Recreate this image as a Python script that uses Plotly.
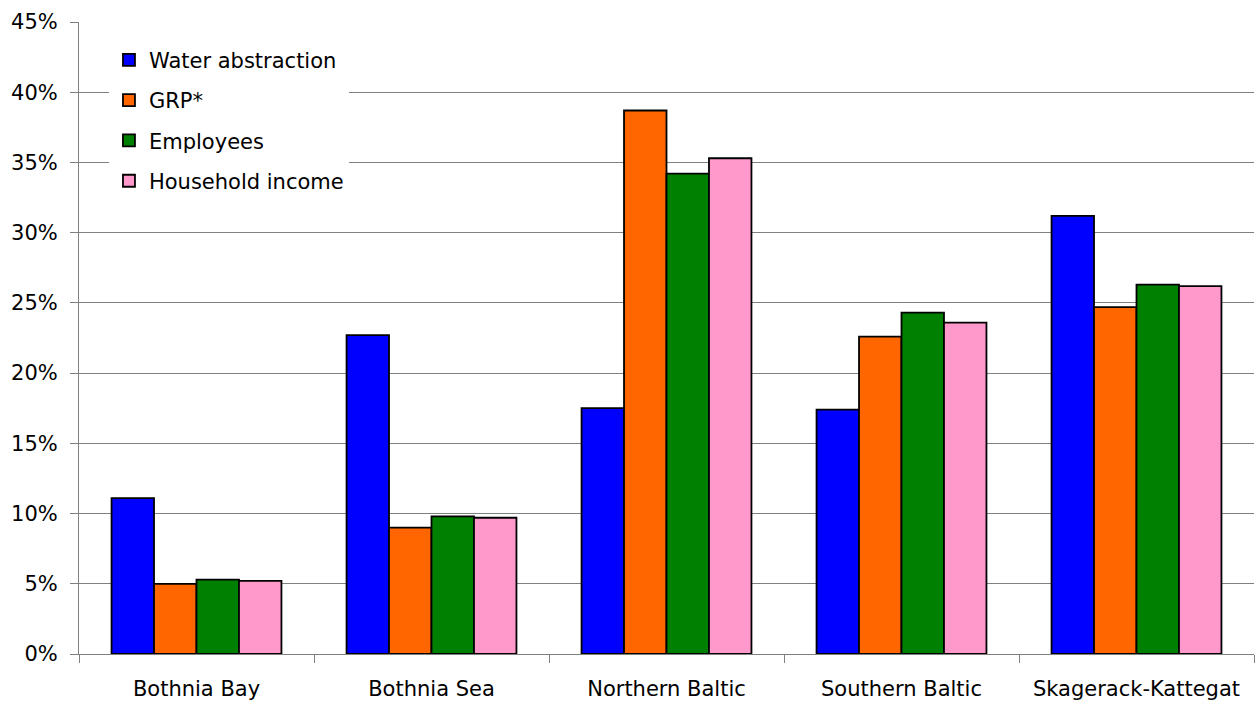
import plotly.graph_objects as go

regions = ["Bothnia Bay", "Bothnia Sea", "Northern Baltic", "Southern Baltic", "Skagerack-Kattegat"]
water_abstraction = [11.1, 22.7, 17.5, 17.4, 31.2]
grp = [5.0, 9.0, 38.7, 22.6, 24.7]
employees = [5.3, 9.8, 34.2, 24.3, 26.3]
household_income = [5.2, 9.7, 35.3, 23.6, 26.2]

series = [
    ("Water abstraction", water_abstraction, "#0000FF"),
    ("GRP*", grp, "#FF6600"),
    ("Employees", employees, "#008000"),
    ("Household income", household_income, "#FF99CC"),
]

font_family = "DejaVu Sans, Arial, sans-serif"

fig = go.Figure()
for i, (name, vals, color) in enumerate(series):
    fig.add_trace(go.Bar(
        x=regions,
        y=[v / 100 for v in vals],
        name=name,
        legendgroup=f"g{i}",
        marker=dict(color=color, line=dict(color="#000000", width=1.8)),
    ))

fig.update_layout(
    width=1257,
    height=704,
    margin=dict(l=79, r=3, t=22, b=50),
    paper_bgcolor="white",
    plot_bgcolor="white",
    barmode="group",
    bargap=0.277,
    bargroupgap=0,
    font=dict(family=font_family, size=21, color="#000000"),
    legend=dict(
        x=0.0255, y=0.972, xanchor="left", yanchor="top",
        bgcolor="white",
        font=dict(size=21),
        tracegroupgap=10,
        traceorder="grouped",
    ),
    xaxis=dict(
        type="category",
        showgrid=False,
        showline=True,
        linecolor="#808080",
        linewidth=1,
        ticks="outside",
        tickson="boundaries",
        ticklen=8,
        tickcolor="#808080",
        ticklabelstandoff=16,
        tickfont=dict(size=21),
    ),
    yaxis=dict(
        range=[0, 0.45],
        dtick=0.05,
        tickformat=".0%",
        showgrid=True,
        gridcolor="#808080",
        gridwidth=1,
        showline=True,
        linecolor="#808080",
        linewidth=1,
        ticks="outside",
        ticklen=8,
        tickcolor="#808080",
        ticklabelstandoff=8,
        tickfont=dict(size=21),
        zeroline=False,
    ),
)

fig.write_html("out.html")
